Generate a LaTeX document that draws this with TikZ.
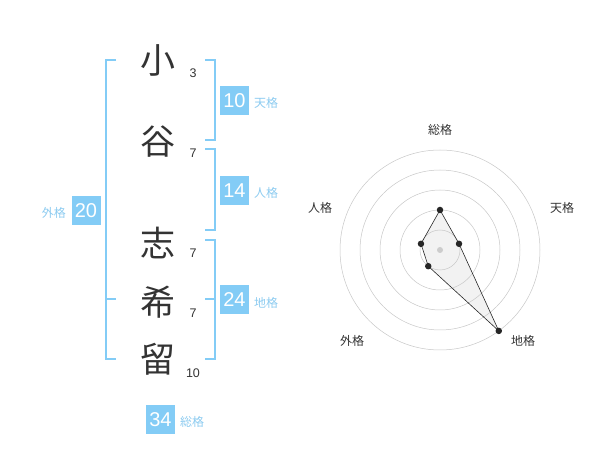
\documentclass[tikz,border=0pt]{standalone}
\usepackage{fontspec}
\usetikzlibrary{calc}
\setmainfont{Liberation Sans}
\newfontfamily\jp{Noto Sans CJK JP}
\definecolor{bl}{HTML}{83CCF6}
\definecolor{lbl}{HTML}{8CCBF0}
\definecolor{txt}{HTML}{333333}
\begin{document}
\begin{tikzpicture}[x=1pt,y=-1pt,
  kanji/.style={font=\jp\fontsize{35}{35}\selectfont,text=txt,inner sep=0},
  strk/.style={font=\fontsize{12.5}{12.5}\selectfont,text=txt,inner sep=0},
  valbox/.style={fill=bl,text=white,minimum width=29pt,minimum height=29pt,inner sep=0,font=\fontsize{20}{20}\selectfont},
  kaku/.style={font=\jp\fontsize{12}{12}\selectfont,text=lbl,inner sep=0},
  brk/.style={draw=bl,line width=1.3pt},
  ring/.style={draw=black!22,line width=0.5pt},
  axl/.style={font=\jp\fontsize{12}{12}\selectfont,text=txt,inner sep=0},
  dotp/.style={circle,fill=black!85,inner sep=0,minimum size=6.5pt}]
\useasboundingbox (0,0) rectangle (600,470);
% characters
\node[kanji] (c1) at (158,60) {小};
\node[kanji] (c2) at (158,142) {谷};
\node[kanji] (c3) at (158,243) {志};
\node[kanji] (c4) at (158,302) {希};
\node[kanji] (c5) at (158,359) {留};
\node[strk] (n1) at (193,73) {3};
\node[strk] (n2) at (193,153) {7};
\node[strk] (n3) at (193,253) {7};
\node[strk] (n4) at (193,313) {7};
\node[strk] (n5) at (193,373) {10};
% brackets
\coordinate (lt) at (106,60);
\coordinate (lb) at (106,359);
\draw[brk] (116,60) -- (lt) -- (lb) -- (116,359);
\draw[brk] (106,299) -- (116,299);
\draw[brk] (205,60) -- (215,60) -- (215,140) -- (205,140);
\draw[brk] (205,149) -- (215,149) -- (215,230) -- (205,230);
\draw[brk] (205,240) -- (215,240) -- (215,359) -- (205,359);
\draw[brk] (205,299) -- (215,299);
% boxes
\node[valbox] (b1) at (234.5,100.5) {10};
\node[kaku,anchor=west] (k1) at (254,103) {天格};
\node[valbox] (b2) at (234.5,190.5) {14};
\node[kaku,anchor=west] (k2) at (254,193) {人格};
\node[valbox] (b3) at (86,210.5) {20};
\node[kaku,anchor=east] (k3) at (66,213) {外格};
\node[valbox] (b4) at (234.5,300) {24};
\node[kaku,anchor=west] (k4) at (254,303) {地格};
\node[valbox] (b5) at (160.5,419.5) {34};
\node[kaku,anchor=west] (k5) at (180,422) {総格};
% radar
\coordinate (o) at (440,250);
\coordinate (pS) at ($(o)+(-90:40)$);
\coordinate (pT) at ($(o)+(-18:20)$);
\coordinate (pC) at ($(o)+(54:100)$);
\coordinate (pG) at ($(o)+(126:20)$);
\coordinate (pJ) at ($(o)+(-162:20)$);
\fill[black!5] (pS) -- (pT) -- (pC) -- (pG) -- (pJ) -- cycle;
\foreach \r in {20,40,60,80,100} \draw[ring] (o) circle[radius=\r];
\draw[black!85,line width=0.6pt] (pS) -- (pT) -- (pC) -- (pG) -- (pJ) -- cycle;
\foreach \p in {pS,pT,pC,pG,pJ} \node[dotp] at (\p) {};
\fill[black!20] (o) circle[radius=3];
\node[axl] (aS) at (440,130) {総格};
\node[axl] (aT) at (562,208) {天格};
\node[axl] (aJ) at (320,208) {人格};
\node[axl] (aG) at (352,341) {外格};
\node[axl] (aC) at (523,341) {地格};
\end{tikzpicture}
\end{document}
